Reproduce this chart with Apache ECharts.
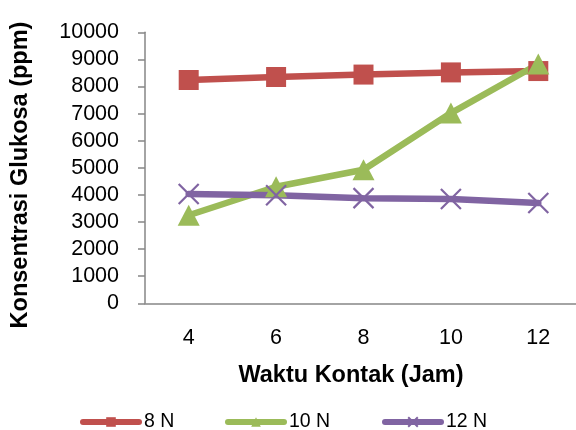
<!DOCTYPE html>
<html>
<head>
<meta charset="utf-8">
<script src="https://cdn.jsdelivr.net/npm/echarts@6/dist/echarts.min.js"></script>
<style>
  html, body { margin: 0; padding: 0; background: #fff; }
  #chart { width: 576px; height: 430px; }
</style>
</head>
<body>
<div id="chart"></div>
<script>
// Contact time (hours)
const categories = ['4', '6', '8', '10', '12'];
// Glucose concentration (ppm) per acid concentration
const series8N = [8240, 8350, 8440, 8520, 8570];
const series10N = [3250, 4300, 4930, 7020, 8830];
const series12N = [4030, 3990, 3880, 3850, 3700];
const seriesNames = ['8 N', '10 N', '12 N'];

const COLORS = ['#C0504D', '#9BBB59', '#8064A2'];
const CROSS = 'path://M0,0L20,20M20,0L0,20';

const chart = echarts.init(document.getElementById('chart'), null, { renderer: 'canvas' });

function lineSeries(name, data, color, symbol, size, extraItem) {
  return {
    name: name,
    type: 'line',
    data: data,
    symbol: symbol,
    symbolSize: size,
    showAllSymbol: true,
    lineStyle: { color: color, width: 6.5, cap: 'round', join: 'round' },
    itemStyle: Object.assign({ color: color, opacity: 1 }, extraItem || {}),
    emphasis: { disabled: true },
    animation: false
  };
}

function legendAt(name, left) {
  return {
    data: [name],
    left: left,
    top: 412,
    padding: 0,
    itemWidth: 56,
    itemHeight: 12,
    itemGap: 0,
    lineStyle: { width: 6, cap: 'round' },
    textStyle: { fontFamily: 'Liberation Sans', fontSize: 19.5, color: '#000' },
    selectedMode: false
  };
}

chart.setOption({
  animation: false,
  backgroundColor: '#ffffff',
  grid: {
    left: 145, width: 437, top: 32.3, bottom: 126.7,
    containLabel: false, outerBoundsMode: 'none'
  },
  xAxis: {
    type: 'category',
    data: categories,
    boundaryGap: true,
    axisLine: { lineStyle: { color: '#868686', width: 1.5 } },
    axisTick: { show: false },
    axisLabel: { fontFamily: 'Liberation Sans', fontSize: 21.5, color: '#000', margin: 24 },
    splitLine: { show: false }
  },
  yAxis: {
    type: 'value',
    min: 0,
    max: 10000,
    interval: 1000,
    axisLine: { show: true, lineStyle: { color: '#868686', width: 1.5 } },
    axisTick: { show: true, length: 7, lineStyle: { color: '#868686', width: 1.5 } },
    axisLabel: {
      fontFamily: 'Liberation Sans', fontSize: 21.5, color: '#000', margin: 26,
      formatter: function (v) { return String(v); }
    },
    splitLine: { show: false }
  },
  legend: [
    legendAt(seriesNames[0], 80),
    legendAt(seriesNames[1], 225),
    legendAt(seriesNames[2], 382)
  ],
  graphic: [
    {
      type: 'text',
      x: 21, y: 175,
      rotation: Math.PI / 2,
      style: {
        text: 'Konsentrasi Glukosa (ppm)',
        fontFamily: 'Liberation Sans', fontWeight: 'bold', fontSize: 23.5,
        fill: '#000', align: 'center', verticalAlign: 'middle'
      }
    },
    {
      type: 'text',
      x: 351, y: 376,
      style: {
        text: 'Waktu Kontak (Jam)',
        fontFamily: 'Liberation Sans', fontWeight: 'bold', fontSize: 23.5,
        fill: '#000', align: 'center', verticalAlign: 'middle'
      }
    }
  ],
  series: [
    lineSeries(seriesNames[0], series8N, COLORS[0], 'rect', 20),
    lineSeries(seriesNames[1], series10N, COLORS[1], 'triangle', [22, 21]),
    lineSeries(seriesNames[2], series12N, COLORS[2], CROSS, 20,
      { borderColor: COLORS[2], borderWidth: 2.2 })
  ]
});
</script>
</body>
</html>
